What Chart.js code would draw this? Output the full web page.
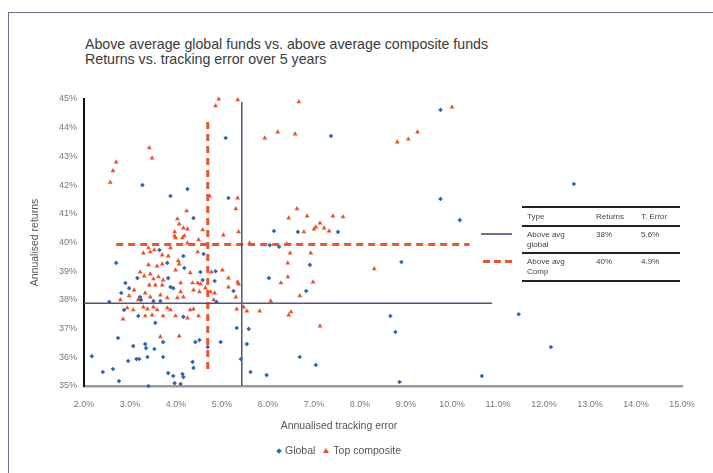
<!DOCTYPE html>
<html>
<head>
<meta charset="utf-8">
<script src="https://cdn.jsdelivr.net/npm/chart.js@4.4.1/dist/chart.umd.min.js"></script>
<style>
body{margin:0;background:#fff;font-family:"Liberation Sans",Arial,sans-serif}
#wrap{position:relative;width:713px;height:473px;overflow:hidden}
.frame{position:absolute;left:8px;top:12px;width:900px;height:700px;border-left:1.5px solid #6f6d92;border-top:1.5px solid #6f6d92}
.title{position:absolute;left:85px;top:37px;font-size:14.2px;line-height:15px;color:#3a3a3a}
canvas{position:absolute;left:0;top:0}
.tbl{position:absolute;left:522px;top:206px;width:158px;font-size:8px;color:#444}
.tbl .row{position:relative;border-top:2px solid #222}
.tbl .row span{position:absolute}
.tbl .last{border-bottom:2px solid #222}
.key{position:absolute;height:2px}
.xtitle{position:absolute;left:239px;width:200px;top:419px;text-align:center;font-size:10.5px;color:#555}
.legend{position:absolute;left:239px;width:200px;top:444px;text-align:center;font-size:10.5px;color:#555;white-space:nowrap}
.dia{display:inline-block;width:4px;height:4px;background:#2f68aa;transform:rotate(45deg);margin:0 4px 1px 0}
.tri{display:inline-block;width:0;height:0;border-left:3px solid transparent;border-right:3px solid transparent;border-bottom:5px solid #ea4f2c;margin:0 4px 1px 8px}
</style>
</head>
<body>
<div id="wrap">
  <div class="frame"></div>
  <div class="title">Above average global funds vs. above average composite funds<br>Returns vs. tracking error over 5 years</div>
  <canvas id="chart" width="713" height="473"></canvas>
  <div class="key" style="left:481px;top:233px;width:31px;background:#6e6c98"></div>
  <div class="key" style="left:483px;top:260px;width:30px;height:3px;background:repeating-linear-gradient(90deg,#ea5530 0 7px,transparent 7px 11px)"></div>
  <div class="tbl">
    <div class="row" style="height:17px"><span style="left:5px;top:4px">Type</span><span style="left:74px;top:4px">Returns</span><span style="left:119px;top:4px">T. Error</span></div>
    <div class="row" style="height:25px"><span style="left:5px;top:3px;line-height:10px">Above avg<br>global</span><span style="left:74px;top:3px">38%</span><span style="left:119px;top:3px">5.6%</span></div>
    <div class="row last" style="height:26px"><span style="left:5px;top:3px;line-height:10px">Above avg<br>Comp</span><span style="left:74px;top:3px">40%</span><span style="left:119px;top:3px">4.9%</span></div>
  </div>
  <div class="xtitle">Annualised tracking error</div>
  <div class="legend"><span class="dia"></span>Global<span class="tri"></span>Top composite</div>
</div>
<script>
// tracking error (%) and returns (%)
const globalTE = [9.75, 7.37, 5.08, 5.14, 9.75, 10.17, 6.13, 6.65, 7.52, 3.27, 4.25, 3.88, 4.38, 12.65, 11.45, 12.15, 10.65, 8.90,
  6.04, 6.24, 6.91, 6.02, 6.83, 8.66, 8.77, 5.32, 5.58, 4.97, 5.54, 5.41, 6.69, 7.04, 5.62, 5.97, 8.86, 4.69, 5.25, 4.86, 4.84,
  2.70, 3.64, 4.16, 4.18, 3.81, 4.60, 4.53, 3.16, 2.90, 2.98, 2.81, 3.22, 3.24, 3.83, 3.88, 3.94, 3.51, 3.66, 2.55, 2.87, 3.18,
  3.55, 4.16, 2.74, 3.07, 3.33, 3.35, 3.53, 3.72, 4.42, 4.51, 2.17, 2.96, 3.14, 3.20, 3.38, 3.72, 4.36, 4.38, 2.41, 2.63, 2.76,
  3.40, 3.83, 3.94, 4.14, 4.16, 3.97, 4.10, 4.58, 4.88]
const globalReturns = [44.62, 43.71, 43.64, 41.55, 41.52, 40.78, 40.40, 40.37, 40.37, 42.00, 41.86, 41.62, 40.85, 42.04, 37.50, 36.36, 35.35, 39.32,
  39.91, 39.85, 39.22, 38.76, 38.31, 37.44, 36.88, 37.02, 36.99, 36.53, 36.46, 35.94, 36.01, 35.73, 35.49, 35.38, 35.14, 36.36, 38.31, 39.00, 38.66,
  39.29, 39.74, 39.53, 39.11, 39.29, 39.60, 38.97, 38.76, 38.59, 38.41, 38.24, 38.10, 38.00, 38.76, 38.45, 38.41, 37.96, 37.96, 37.93, 37.65, 37.44,
  37.20, 37.41, 36.67, 36.39, 36.46, 36.32, 36.29, 36.53, 36.53, 36.60, 36.04, 35.87, 35.94, 35.94, 36.01, 36.01, 35.84, 35.63, 35.49, 35.59, 35.17,
  35.00, 35.45, 35.35, 35.42, 35.31, 35.10, 35.07, 38.69, 37.93]

const compositeTE = [4.93, 4.86, 5.34, 3.42, 3.48, 2.70, 2.63, 2.57, 5.93, 6.21, 6.59, 6.67, 8.81, 9.05, 9.25, 10.00, 5.34, 5.30,
  4.23, 4.03, 4.07, 4.16, 4.25, 3.97, 4.58, 4.73, 5.03, 5.36, 4.49, 6.63, 6.45, 6.85, 7.13, 7.04, 7.00, 7.22, 7.33, 7.41, 7.63, 6.78,
  5.60, 6.41, 6.48, 6.93, 6.43, 8.31, 6.43, 6.28, 6.98, 6.69, 6.06, 5.82, 5.54, 5.47, 5.32, 6.50, 6.45, 7.13, 5.36, 5.30, 5.01, 5.14,
  3.29, 3.44, 3.53, 3.70, 3.83, 4.47, 4.05, 4.07, 3.40, 3.59, 3.70, 3.99, 4.31, 3.22, 3.31, 3.44, 3.51, 3.62, 3.72, 3.42, 3.55, 3.70,
  4.10, 4.36, 4.47, 4.53, 4.38, 4.51, 4.75, 4.10, 4.16, 4.03, 3.09, 2.98, 2.79, 3.18, 3.33, 3.44, 3.66, 3.81, 4.84, 4.82, 4.77,
  2.94, 3.07, 3.29, 3.38, 3.51, 3.59, 3.81, 3.88, 4.31, 4.38, 3.72, 3.48, 3.33, 2.85, 3.99, 4.25, 4.49, 3.66, 4.07, 3.97, 4.18, 4.25,
  3.40, 3.88, 3.99, 4.14, 4.64, 5.14, 5.34]
const compositeReturns = [45.00, 44.76, 44.97, 43.30, 42.94, 42.80, 42.50, 42.10, 43.64, 43.85, 43.78, 44.90, 43.50, 43.60, 43.85, 44.72, 41.55, 41.17,
  41.10, 40.82, 40.64, 40.50, 40.47, 40.37, 40.44, 41.62, 40.26, 40.37, 40.09, 41.17, 40.85, 40.92, 40.68, 40.54, 40.47, 40.50, 40.40, 40.92, 40.89, 40.37,
  39.98, 39.95, 39.63, 39.63, 39.28, 39.08, 38.80, 38.59, 38.62, 38.14, 37.96, 37.61, 37.61, 37.75, 37.68, 37.58, 37.47, 37.09, 38.55, 38.10, 39.04, 38.76,
  39.63, 39.67, 39.74, 39.56, 39.53, 39.67, 39.36, 39.25, 39.22, 39.18, 39.25, 39.04, 38.94, 38.97, 38.83, 38.90, 38.73, 38.80, 38.69, 38.52, 38.52, 38.52,
  38.59, 38.59, 38.59, 38.55, 38.34, 38.28, 38.28, 38.28, 38.10, 38.07, 38.34, 38.14, 38.00, 38.00, 38.24, 38.10, 38.17, 38.07, 38.24, 38.00, 38.97,
  37.72, 37.65, 37.75, 37.68, 37.75, 37.65, 37.72, 37.65, 37.65, 37.68, 37.44, 37.47, 37.44, 37.33, 37.44, 37.37, 37.44, 36.71, 36.74, 40.23, 40.23, 39.98,
  39.81, 39.81, 40.16, 40.16, 38.41, 38.45, 38.62]

// average lines as drawn on the chart
const globalAvgReturn = 37.88
const globalAvgTE = 5.43
const compAvgReturn = 39.93
const compAvgTE = 4.69

const xTicks = [2, 3, 4, 5, 6, 7, 8, 9, 10, 11, 12, 13, 14, 15]
const yTicks = [35, 36, 37, 38, 39, 40, 41, 42, 43, 44, 45]

const toPoints = (xs, ys) => xs.map((x, i) => ({x: x, y: ys[i]}))

const tickFont = {family: 'Liberation Sans', size: 9}
const ctx = document.getElementById('chart').getContext('2d')

new Chart(ctx, {
    type: 'scatter',
    data: {
        datasets: [
            {label: 'avg global h', data: [{x: 2, y: globalAvgReturn}, {x: 10.87, y: globalAvgReturn}], showLine: true, borderColor: '#55537d', borderWidth: 1.5, pointRadius: 0, order: 0},
            {label: 'avg global v', data: [{x: globalAvgTE, y: 44.9}, {x: globalAvgTE, y: 35}], showLine: true, borderColor: '#55537d', borderWidth: 1.5, pointRadius: 0, order: 0},
            {label: 'avg comp h', data: [{x: 2.7, y: compAvgReturn}, {x: 10.38, y: compAvgReturn}], showLine: true, borderColor: '#ea5530', borderWidth: 3, borderDash: [7, 5], pointRadius: 0, order: 0},
            {label: 'avg comp v', data: [{x: compAvgTE, y: 44.2}, {x: compAvgTE, y: 35.55}], showLine: true, borderColor: '#ea5530', borderWidth: 3, borderDash: [7, 5], pointRadius: 0, order: 0},
            {label: 'Global', data: toPoints(globalTE, globalReturns), pointStyle: 'rectRot', radius: 2.3, backgroundColor: '#2f68aa', borderColor: '#2f68aa', borderWidth: 0, clip: false, order: 1},
            {label: 'Top composite', data: toPoints(compositeTE, compositeReturns), pointStyle: 'triangle', radius: 2.8, backgroundColor: '#ec5230', borderColor: '#ec5230', borderWidth: 0, clip: false, order: 2}
        ]
    },
    options: {
        responsive: false,
        animation: false,
        layout: {padding: {top: 99, right: 31, left: 29, bottom: 0}},
        plugins: {
            tooltip: {enabled: false},
            legend: {display: false}
        },
        scales: {
            x: {
                type: 'linear',
                min: 2,
                max: 15,
                afterBuildTicks: scale => { scale.ticks = xTicks.map(v => ({value: v})) },
                afterFit: scale => { scale.height = 87 },
                ticks: {padding: 13, color: '#777', font: tickFont, callback: v => v.toFixed(1) + '%', maxRotation: 0},
                grid: {drawOnChartArea: false, drawTicks: false},
                border: {color: '#9a9a9a', width: 2.5}
            },
            y: {
                type: 'linear',
                min: 35,
                max: 45,
                afterBuildTicks: scale => { scale.ticks = yTicks.map(v => ({value: v})) },
                afterFit: scale => { scale.width = 55 },
                ticks: {padding: 7, color: '#777', font: tickFont, callback: v => v + '%'},
                grid: {drawOnChartArea: false, drawTicks: false},
                border: {color: '#111', width: 2},
                title: {display: true, text: 'Annualised returns', color: '#555', font: {family: 'Liberation Sans', size: 10.5}, padding: {top: 0, bottom: 0}}
            }
        }
    }
})
</script>
</body>
</html>
